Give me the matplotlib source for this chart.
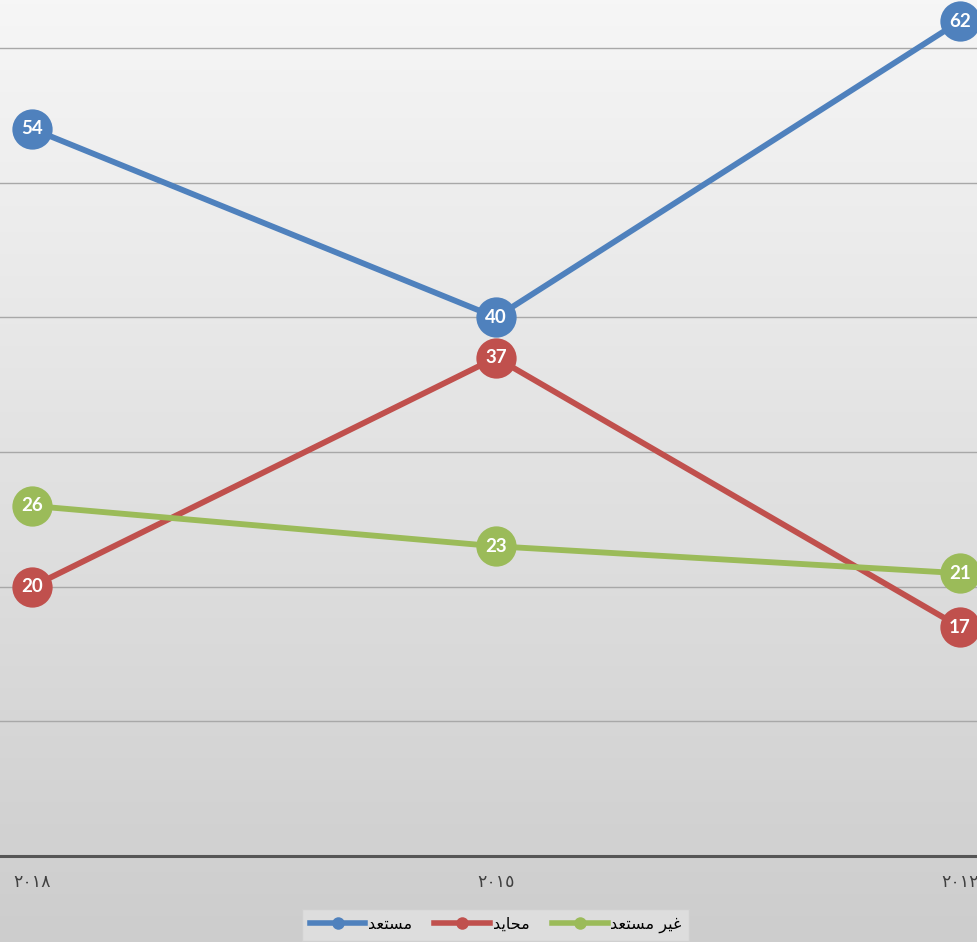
import numpy as np
import matplotlib
matplotlib.use('Agg')
import matplotlib.pyplot as plt
from matplotlib.lines import Line2D

plt.rcParams['font.family'] = ['DejaVu Sans']

# years shown right-to-left in the original, so 2018 is on the left
years = ['\u0662\u0660\u0661\u0668', '\u0662\u0660\u0661\u0665', '\u0662\u0660\u0661\u0662']

# series names, written in Arabic presentation forms (visual order)
# so they come out joined without a shaping engine
name_ready = '\uFEAA\uFECC\uFE98\uFEB4\uFEE3'                       # مستعد
name_neutral = '\uFEAA\uFEF3\uFE8E\uFEA4\uFEE3'                     # محايد
name_not_ready = '\uFEAA\uFECC\uFE98\uFEB4\uFEE3 \uFEAE\uFEF4\uFECF'  # غير مستعد

ready = [54, 40, 62]
neutral = [20, 37, 17]
not_ready = [26, 23, 21]

colors = ['#4f81bd', '#c0504d', '#9bbb59']

fig = plt.figure(figsize=(9.78, 9.42), dpi=100)

# grey gradient background behind everything
bg = fig.add_axes([0, 0, 1, 1], zorder=-1)
grad = np.linspace(0, 1, 256).reshape(-1, 1)
bg.imshow(grad, aspect='auto', cmap=matplotlib.colors.LinearSegmentedColormap.from_list(
    'bg', ['#f6f6f6', '#cdcdcd']), extent=[0, 1, 0, 1])
bg.axis('off')

ax = fig.add_axes([0, 86 / 942, 1, 856 / 942])
ax.set_facecolor('none')

x = np.arange(len(years))
series = [(ready, name_ready), (neutral, name_neutral), (not_ready, name_not_ready)]
for (vals, name), c in zip(series, colors):
    ax.plot(x, vals, color=c, lw=4.2, marker='o', markersize=29,
            markeredgewidth=0, solid_capstyle='round', clip_on=False, zorder=3)
    for xi, v in zip(x, vals):
        ax.text(xi, v, str(v), ha='center', va='center', color='white',
                fontsize=13.5, fontweight='bold', family=['Lato', 'DejaVu Sans'],
                zorder=5, clip_on=False)

ax.set_xlim(-32 / 464, (978 - 32) / 464)
ax.set_ylim(0, 856 / (808 / 60))

ax.set_yticks([10, 20, 30, 40, 50, 60])
ax.yaxis.grid(True, color='#a8a8a8', lw=1)
ax.set_axisbelow(True)
ax.tick_params(axis='y', left=False, labelleft=False)

ax.set_xticks(x)
ax.set_xticklabels(years, fontsize=12.5, color='#404040')
ax.tick_params(axis='x', length=0, pad=12)

for s in ['top', 'left', 'right']:
    ax.spines[s].set_visible(False)
ax.spines['bottom'].set_color('#555555')
ax.spines['bottom'].set_linewidth(2.2)

handles = [Line2D([], [], color=c, lw=4, marker='o', markersize=9, markeredgewidth=0)
           for c in colors]
leg = fig.legend(handles, [s[1] for s in series], loc='upper center',
                 bbox_to_anchor=(495.5 / 978, 41 / 942), ncol=3, fontsize=11.5,
                 handlelength=3.5, handletextpad=0.15, columnspacing=1.4,
                 frameon=True, fancybox=False, borderpad=0.5)
leg.get_frame().set_facecolor('#dddddd')
leg.get_frame().set_edgecolor('#d0d0d0')
leg.get_frame().set_alpha(1)

fig.savefig('out.png', dpi=100)
